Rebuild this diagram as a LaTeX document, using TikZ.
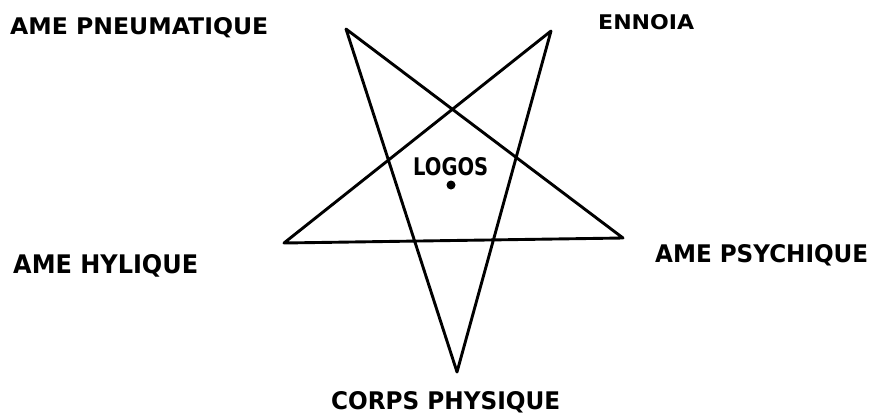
\documentclass[tikz,border=0pt]{standalone}
\usepackage{fontspec}
\usepackage{graphicx}
\setmainfont{DejaVu Sans}
\tikzset{
  lab/.style={inner sep=0pt, anchor=west, font=\bfseries},
  edge/.style={line width=2.9pt, line cap=round, line join=round, black}
}
\newcommand{\fitlab}[3]{\resizebox{#1pt}{#2pt}{#3}}
\begin{document}
\begin{tikzpicture}[x=1pt,y=-1pt]
\useasboundingbox (0,0) rectangle (874,415);
\fill[white] (0,0) rectangle (874,415);
\coordinate (tl) at (346,29);
\coordinate (tr) at (551,31);
\coordinate (rt) at (623,238);
\coordinate (bt) at (457,372);
\coordinate (lf) at (284,243);
\draw[edge] (tl) -- (bt) -- (tr) -- (lf) -- (rt) -- cycle;
\node[lab] (pneu) at (10,28) {\fitlab{258}{17}{AME PNEUMATIQUE}};
\node[lab] (ennoia) at (598,22) {\fitlab{96}{15}{ENNOIA}};
\node[lab] (logos) at (413,167) {\fitlab{75}{18}{LOGOS}};
\fill (451,185) circle (4.5);
\node[lab] (hyl) at (13,266) {\fitlab{185}{19}{AME HYLIQUE}};
\node[lab] (psy) at (655,255) {\fitlab{213}{18}{AME PSYCHIQUE}};
\node[lab] (corps) at (331,402) {\fitlab{229}{18}{CORPS PHYSIQUE}};
\end{tikzpicture}
\end{document}
